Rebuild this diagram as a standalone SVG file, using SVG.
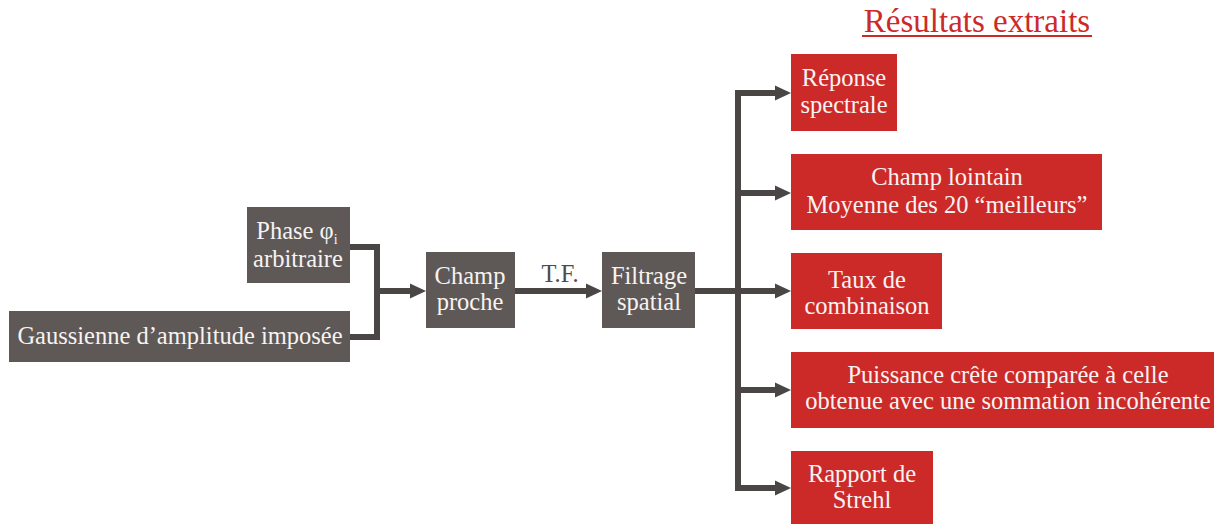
<svg xmlns="http://www.w3.org/2000/svg" width="1214" height="524" viewBox="0 0 1214 524">
  <defs>
    <style>
      .gray { fill: #5e5956; }
      .red { fill: #cc2a29; }
      .lbl { font-size: 24.5px; fill: #f7f3f2; text-anchor: middle; }
      .title { font-size: 33px; fill: #cc2a29; text-anchor: middle; }
      .tf { font-size: 24.5px; fill: #4f4b49; text-anchor: middle; }
      .wire { fill: none; stroke: #4a4645; stroke-width: 6; stroke-linejoin: miter; }
    </style>
    <marker id="head" markerUnits="userSpaceOnUse" markerWidth="16" markerHeight="16" refX="6" refY="8" orient="auto">
      <path d="M0,0.5 L16,8 L0,15.5 z" fill="#4a4645"/>
    </marker>
  </defs>

  <rect width="1214" height="524" fill="#ffffff"/>

  <g font-family="Liberation Serif, Times New Roman, serif">
    <!-- title -->
    <g id="title">
      <text class="title" x="977" y="32">Résultats extraits</text>
      <rect x="862" y="35" width="230" height="2" fill="#cc2a29"/>
    </g>

    <!-- connectors -->
    <g id="connectors">
      <path class="wire" d="M350,247 H377 V337 H350"/>
      <path class="wire" d="M377,291 H416" marker-end="url(#head)"/>
      <path class="wire" d="M515,291 H592" marker-end="url(#head)"/>
      <path class="wire" d="M695,291 H781" marker-end="url(#head)"/>
      <path class="wire" d="M738,93 V488"/>
      <path class="wire" d="M735,93 H781" marker-end="url(#head)"/>
      <path class="wire" d="M738,193 H781" marker-end="url(#head)"/>
      <path class="wire" d="M738,390 H781" marker-end="url(#head)"/>
      <path class="wire" d="M735,488 H781" marker-end="url(#head)"/>
      <text class="tf" x="560" y="282">T.F.</text>
    </g>

    <!-- input nodes -->
    <g id="phase">
      <rect class="gray" x="247" y="207" width="103" height="76"/>
      <text class="lbl" x="297" y="239">Phase φ<tspan font-size="14" dy="5">i</tspan></text>
      <text class="lbl" x="298" y="267">arbitraire</text>
    </g>
    <g id="gaussienne">
      <rect class="gray" x="9" y="311" width="341" height="51"/>
      <text class="lbl" x="180" y="344">Gaussienne d’amplitude imposée</text>
    </g>
    <g id="champ-proche">
      <rect class="gray" x="426" y="252" width="89" height="76"/>
      <text class="lbl" x="470" y="284">Champ</text>
      <text class="lbl" x="470" y="310">proche</text>
    </g>
    <g id="filtrage">
      <rect class="gray" x="602" y="252" width="93" height="76"/>
      <text class="lbl" x="649" y="284">Filtrage</text>
      <text class="lbl" x="649" y="310">spatial</text>
    </g>

    <!-- result nodes -->
    <g id="reponse">
      <rect class="red" x="791" y="54" width="106" height="77"/>
      <text class="lbl" x="844" y="86">Réponse</text>
      <text class="lbl" x="844" y="113">spectrale</text>
    </g>
    <g id="champ-lointain">
      <rect class="red" x="791" y="154" width="311" height="76"/>
      <text class="lbl" x="947" y="185">Champ lointain</text>
      <text class="lbl" x="947" y="213">Moyenne des 20 “meilleurs”</text>
    </g>
    <g id="taux">
      <rect class="red" x="791" y="253" width="151" height="76"/>
      <text class="lbl" x="867" y="288">Taux de</text>
      <text class="lbl" x="867" y="314">combinaison</text>
    </g>
    <g id="puissance">
      <rect class="red" x="791" y="352" width="423" height="76"/>
      <text class="lbl" x="1008" y="383">Puissance crête comparée à celle</text>
      <text class="lbl" x="1008" y="409">obtenue avec une sommation incohérente</text>
    </g>
    <g id="strehl">
      <rect class="red" x="791" y="451" width="142" height="73"/>
      <text class="lbl" x="862" y="482">Rapport de</text>
      <text class="lbl" x="862" y="508">Strehl</text>
    </g>
  </g>
</svg>
